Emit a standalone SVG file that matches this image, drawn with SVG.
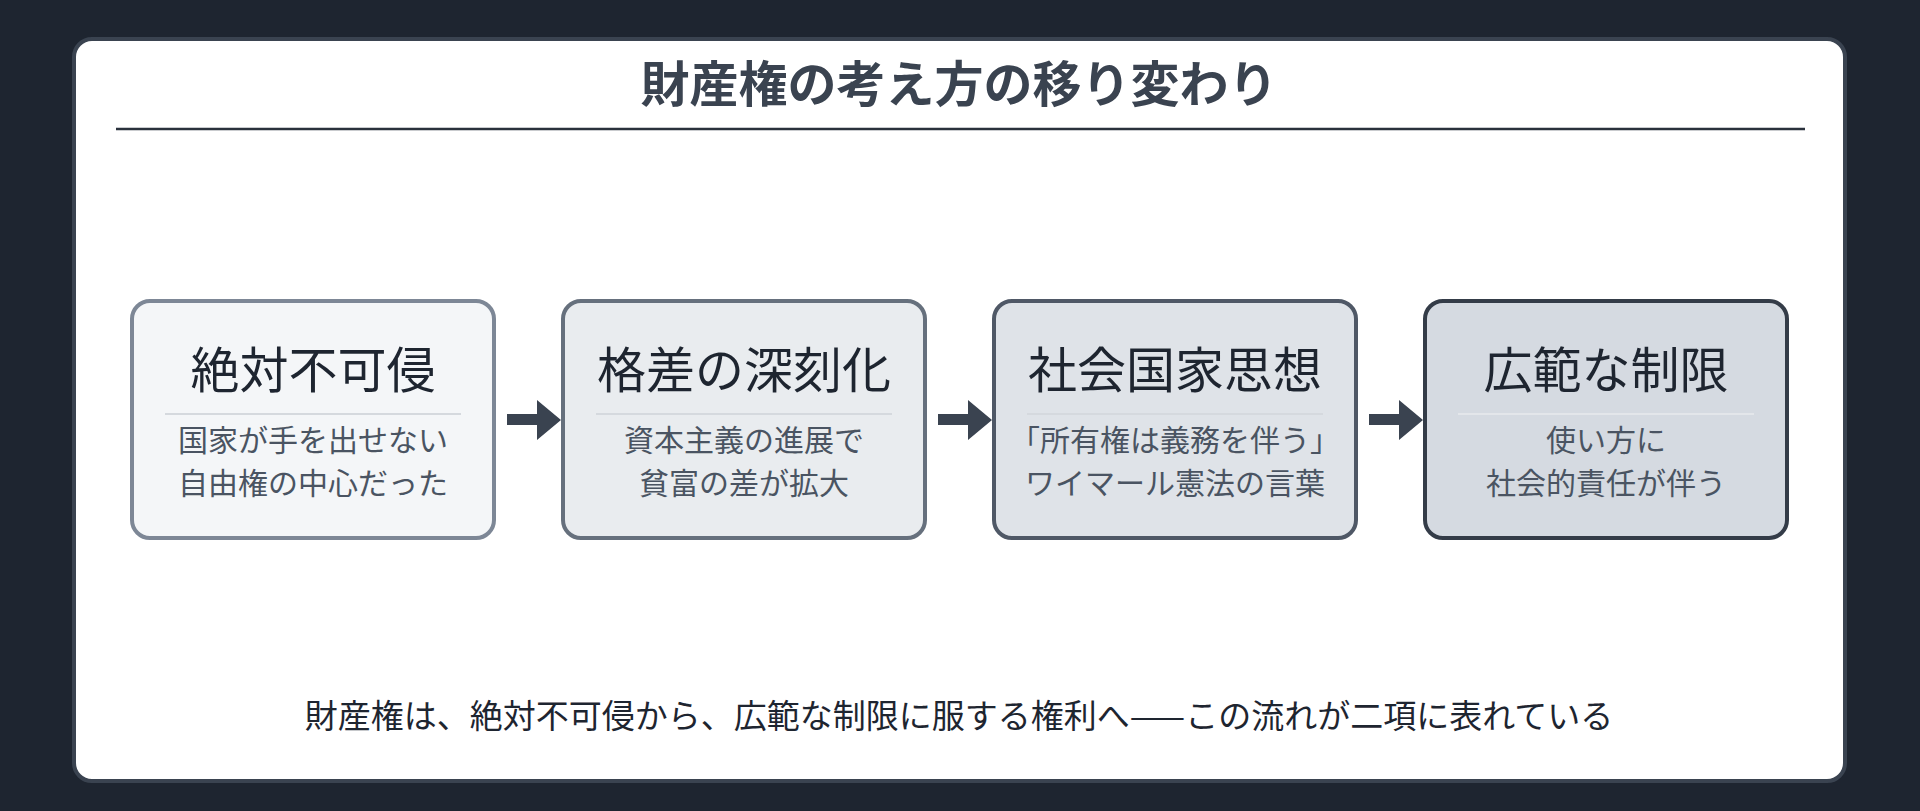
<svg xmlns="http://www.w3.org/2000/svg" width="1920" height="811" viewBox="0 0 1920 811">
<defs>
<style>
text{font-family:"Noto Sans CJK JP","Noto Sans",sans-serif;text-anchor:middle}
.t{font-size:49px;fill:#1e2530}
.s{font-size:30px;fill:#4a5462}
.sep{stroke:#d5d9de;stroke-width:2}
.arr{fill:#3a4350}
</style>
</defs>
<rect width="1920" height="811" fill="#1e2530"/>
<rect x="74" y="39" width="1771" height="742" rx="18" fill="#ffffff" stroke="#3a4350" stroke-width="4"/>
<text x="959" y="102" style="font-size:49px;font-weight:bold;fill:#3a4350">財産権の考え方の移り変わり</text>
<line x1="116" y1="129" x2="1805" y2="129" stroke="#2a313c" stroke-width="2.5"/>
<g id="n1">
<rect x="132" y="301" width="362" height="237" rx="18" fill="#f4f6f8" stroke="#7d8796" stroke-width="4"/>
<text class="t" x="313" y="388">絶対不可侵</text>
<line class="sep" x1="165" y1="414" x2="461" y2="414"/>
<text class="s" x="313" y="451">国家が手を出せない</text>
<text class="s" x="313" y="494">自由権の中心だった</text>
</g>
<g id="n2">
<rect x="563" y="301" width="362" height="237" rx="18" fill="#e9ecef" stroke="#66707d" stroke-width="4"/>
<text class="t" x="744" y="388">格差の深刻化</text>
<line class="sep" x1="596" y1="414" x2="892" y2="414"/>
<text class="s" x="744" y="451">資本主義の進展で</text>
<text class="s" x="744" y="494">貧富の差が拡大</text>
</g>
<g id="n3">
<rect x="994" y="301" width="362" height="237" rx="18" fill="#dfe3e8" stroke="#4f5866" stroke-width="4"/>
<text class="t" x="1175" y="388">社会国家思想</text>
<line class="sep" x1="1027" y1="414" x2="1323" y2="414"/>
<text class="s" x="1175" y="451">「所有権は義務を伴う」</text>
<text class="s" x="1175" y="494">ワイマール憲法の言葉</text>
</g>
<g id="n4">
<rect x="1425" y="301" width="362" height="237" rx="18" fill="#d5dae1" stroke="#343c48" stroke-width="4"/>
<text class="t" x="1606" y="388">広範な制限</text>
<line class="sep" x1="1458" y1="414" x2="1754" y2="414" style="stroke:#e3e6ea"/>
<text class="s" x="1606" y="451">使い方に</text>
<text class="s" x="1606" y="494">社会的責任が伴う</text>
</g>
<g id="connectors">
<path class="arr" d="M507 414H537V400L561 420L537 440V425H507Z"/>
<path class="arr" d="M938 414H968V400L992 420L968 440V425H938Z"/>
<path class="arr" d="M1369 414H1399V400L1423 420L1399 440V425H1369Z"/>
</g>
<text x="959" y="728" style="font-size:33px;fill:#1e2530">財産権は、絶対不可侵から、広範な制限に服する権利へ——この流れが二項に表れている</text>
</svg>
